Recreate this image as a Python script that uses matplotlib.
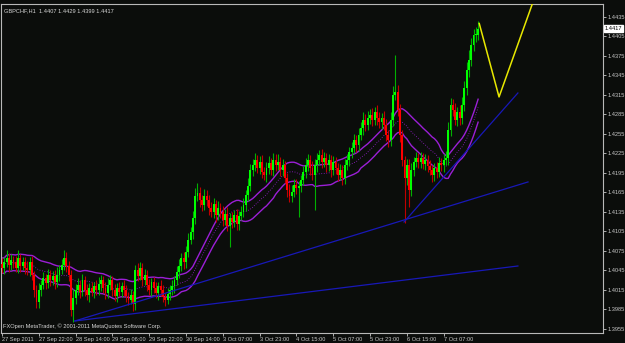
import numpy as np
import pandas as pd
import matplotlib
matplotlib.use("Agg")
import matplotlib.pyplot as plt

# GBPCHF H1 closes, in pips (1e-4)
closes_pips = [
    14049, 14058, 14064, 14053, 14061, 14058, 14049, 14064, 14052, 14058,
    14049, 14046, 14058, 14038, 14015, 13996, 14015, 14023, 14033, 14026,
    14038, 14030, 14037, 14027, 14038, 14046, 14053, 14064, 14052, 14038,
    13984, 14003, 14015, 14023, 14012, 14030, 14015, 14007, 14018, 14012,
    14021, 14015, 14024, 14030, 14018, 14010, 14023, 14030, 14015, 14006,
    14018, 14012, 14021, 14015, 14006, 14000, 14007, 13993, 14046, 14037,
    14049, 14030, 14038, 14023, 14015, 14027, 14018, 14010, 14021, 14015,
    14004, 14000, 14009, 14015, 14021, 14030, 14043, 14052, 14064, 14058,
    14073, 14092, 14104, 14126, 14160, 14164, 14153, 14146, 14160, 14153,
    14141, 14135, 14147, 14130, 14141, 14135, 14123, 14132, 14113, 14126,
    14120, 14130, 14117, 14129, 14135, 14146, 14161, 14175, 14200, 14207,
    14215, 14203, 14212, 14197, 14192, 14203, 14210, 14200, 14215, 14207,
    14212, 14200, 14207, 14187, 14169, 14160, 14166, 14177, 14172, 14175,
    14184, 14197, 14207, 14215, 14203, 14192, 14207, 14215, 14223, 14212,
    14218, 14207, 14215, 14200, 14212, 14203, 14192, 14200, 14187, 14207,
    14215, 14227, 14233, 14246, 14238, 14253, 14264, 14277, 14269, 14280,
    14284, 14277, 14289, 14280, 14273, 14280, 14269, 14253, 14246, 14277,
    14315, 14320, 14292, 14253, 14215, 14187, 14207, 14169, 14200, 14212,
    14218, 14212, 14218, 14209, 14215, 14206, 14200, 14192, 14203, 14197,
    14210, 14207, 14215, 14218, 14261, 14300, 14292, 14277, 14289, 14280,
    14300, 14326, 14353, 14369, 14392, 14407, 14407, 14417,
]
first_open = 14055

# wick lengths beyond the body, in pips
wick_up = [
    9, 7, 12, 8, 10, 6, 9, 13, 7, 8,
    8, 10, 7, 9, 6, 7, 11, 8, 9, 7,
    10, 8, 7, 9, 12, 8, 10, 12, 9, 8,
    7, 13, 9, 11, 8, 10, 7, 9, 8, 10,
    7, 9, 11, 8, 7, 9, 10, 8, 7, 9,
    8, 10, 7, 9, 8, 6, 9, 7, 8, 11,
    9, 7, 10, 8, 9, 7, 8, 10, 7, 9,
    8, 7, 9, 8, 10, 7, 9, 11, 8, 10,
    9, 11, 8, 10, 12, 16, 9, 8, 11, 9,
    8, 10, 9, 7, 11, 8, 9, 7, 10, 8,
    9, 8, 10, 7, 9, 11, 8, 12, 9, 10,
    11, 8, 9, 10, 7, 9, 11, 8, 10, 9,
    12, 8, 9, 7, 8, 9, 10, 8, 9, 7,
    8, 9, 11, 9, 8, 10, 9, 11, 8, 9,
    10, 8, 9, 7, 9, 8, 7, 9, 8, 10,
    9, 8, 10, 9, 8, 11, 9, 12, 8, 10,
    9, 11, 8, 10, 9, 8, 10, 9, 8, 12,
    14, 57, 10, 9, 8, 6, 10, 9, 11, 8,
    9, 8, 10, 7, 9, 8, 9, 7, 8, 9,
    10, 8, 9, 11, 12, 10, 9, 11, 8, 10,
    12, 10, 12, 15, 11, 10, 12, 12,
]
wick_dn = [
    8, 9, 7, 10, 8, 9, 7, 8, 9, 7,
    9, 8, 10, 7, 11, 8, 8, 10, 7, 9,
    8, 9, 7, 10, 8, 9, 7, 8, 10, 9,
    9, 18, 9, 8, 10, 7, 9, 8, 10, 7,
    9, 8, 7, 10, 8, 9, 7, 8, 10, 8,
    9, 7, 8, 10, 9, 8, 7, 11, 9, 8,
    7, 9, 8, 10, 7, 9, 8, 7, 10, 9,
    8, 10, 7, 9, 8, 10, 7, 9, 8, 10,
    9, 8, 7, 10, 9, 8, 10, 9, 8, 9,
    10, 8, 9, 11, 8, 10, 9, 8, 7, 32,
    9, 8, 10, 9, 7, 8, 10, 9, 8, 10,
    9, 8, 10, 9, 8, 11, 9, 8, 10, 9,
    8, 10, 9, 8, 11, 10, 9, 8, 10, 45,
    9, 8, 10, 9, 11, 8, 54, 10, 8, 9,
    8, 10, 9, 11, 8, 9, 10, 8, 11, 9,
    8, 10, 9, 8, 10, 9, 8, 10, 9, 8,
    10, 9, 8, 11, 9, 10, 8, 9, 11, 10,
    9, 8, 10, 11, 9, 69, 11, 26, 10, 9,
    8, 10, 9, 8, 10, 9, 8, 11, 9, 10,
    8, 9, 10, 8, 11, 9, 10, 8, 9, 11,
    10, 9, 11, 10, 9, 10, 11, 8,
]

date_labels = ["27 Sep 2011", "27 Sep 22:00", "28 Sep 14:00", "29 Sep 06:00",
               "29 Sep 22:00", "30 Sep 14:00", "3 Oct 07:00", "3 Oct 23:00",
               "4 Oct 15:00", "5 Oct 07:00", "5 Oct 23:00", "6 Oct 15:00",
               "7 Oct 07:00"]
price_ticks = [1.3955, 1.3985, 1.4015, 1.4045, 1.4075, 1.4105, 1.4135, 1.4165,
               1.4195, 1.4225, 1.4255, 1.4285, 1.4315, 1.4345, 1.4375, 1.4405,
               1.4435]

# trendlines (bar index, price)
trend_x = [(31.7, 224.3), (31.7, 228.7), (174.8, 224.3)]
trend_y = [(1.39673, 1.40519), (1.39673, 1.41812), (1.41196, 1.43181)]
# yellow projection
zz_x = [207.5, 216.1, 234.0]
zz_y = [1.4425, 1.4312, 1.4489]

plt.rcParams["font.family"] = ["Liberation Sans", "DejaVu Sans"]
fs = 4.1

c = np.array(closes_pips) / 1e4
o = np.concatenate([[first_open / 1e4], c[:-1]])
hi = np.maximum(o, c) + np.array(wick_up) / 1e4
lo = np.minimum(o, c) - np.array(wick_dn) / 1e4
x = np.arange(len(c))

bg = "#0b0d0b"
fig = plt.figure(figsize=(6.25, 3.43), dpi=100, facecolor=bg)
ax = fig.add_axes([1 / 625, 10 / 343, 602 / 625, 329 / 343], facecolor=bg)

# envelope bands: MA of highs / lows, dotted MA of closes
up_band = pd.Series(hi).rolling(20, min_periods=1).mean()
dn_band = pd.Series(lo).rolling(20, min_periods=1).mean()
mid = pd.Series(c).rolling(20, min_periods=1).mean()
purple = "#9b1fd6"
ax.plot(x, up_band, color=purple, lw=1.0, zorder=2)
ax.plot(x, dn_band, color=purple, lw=1.0, zorder=2)
ax.plot(x, mid, color=purple, lw=0.6, ls=(0, (1, 2)), zorder=2)

bull = c >= o
wick_col = np.where(bull, "#00b000", "#c00000")
body_col = np.where(bull, "#00ff00", "#ff0000")
ax.vlines(x, lo, hi, colors=wick_col, lw=0.8, zorder=3)
height = np.maximum(np.abs(c - o), 0.00012)
ax.bar(x, height, bottom=np.minimum(o, c), width=0.85, color=body_col,
       linewidth=0, zorder=4)

for tx, ty in zip(trend_x, trend_y):
    ax.plot(tx, ty, color="#1818b8", lw=0.9, zorder=5)
ax.plot(zz_x, zz_y, color="#e8e800", lw=1.1, zorder=5)

ax.set_xlim(-0.43, 261.3)
ax.set_ylim(1.39488, 1.4455)

for s in ax.spines.values():
    s.set_color("#b8b8b8")
    s.set_linewidth(0.8)

ax.yaxis.tick_right()
ax.set_yticks(price_ticks)
ax.set_yticklabels([f"{p:.4f}" for p in price_ticks])
ax.tick_params(axis="y", colors="#c8c8c8", labelsize=fs, length=2.5, pad=1.0,
               width=0.6)
ax.set_xticks(np.arange(0, 16 * len(date_labels), 16))
ax.set_xticklabels(date_labels)
ax.tick_params(axis="x", colors="#c8c8c8", labelsize=fs, length=2.5, pad=0.5,
               width=0.6)
for lab in ax.get_xticklabels():
    lab.set_horizontalalignment("left")

# last price box
ax.text(1.003, c[-1], f"{c[-1]:.4f}", transform=ax.get_yaxis_transform(),
        fontsize=fs, color="black", va="center", ha="left",
        bbox=dict(boxstyle="square,pad=0.15", fc="white", ec="white"))

ax.text(0.005, 0.987, "GBPCHF,H1  1.4407 1.4429 1.4399 1.4417",
        transform=ax.transAxes, fontsize=fs, color="#d8d8d8", va="top")
ax.text(0.004, 0.012, "FXOpen MetaTrader, \u00a9 2001-2011 MetaQuotes Software Corp.",
        transform=ax.transAxes, fontsize=fs, color="#d8d8d8", va="bottom")

fig.savefig("out.png", dpi=100, facecolor=bg)
